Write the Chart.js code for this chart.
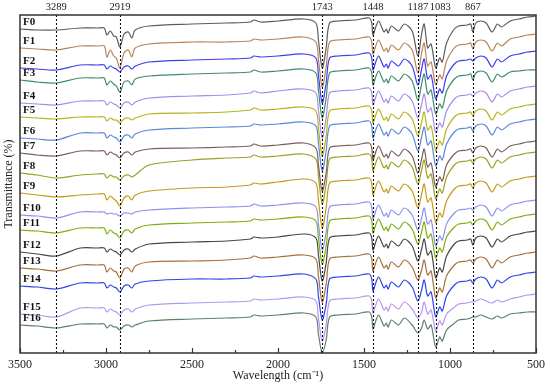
<!DOCTYPE html>
<html>
<head>
<meta charset="utf-8">
<script src="https://cdn.jsdelivr.net/npm/chart.js@4.4.1/dist/chart.umd.min.js"></script>
<style>
html,body{margin:0;padding:0;background:#fff;}
#wrap{width:550px;height:389px;position:relative;}
</style>
</head>
<body>
<div id="wrap"><canvas id="c" width="550" height="389"></canvas></div>
<script>
// Wavenumber grid (cm-1)
const wavenumbers = [3500,3400,3289,3150,3050,3010,2995,2975,2955,2940,2919,2895,2870,2850,2830,2750,2500,2300,2160,2140,2100,2000,1850,1780,1765,1743,1720,1700,1650,1550,1470,1455,1448,1430,1415,1395,1383,1370,1360,1340,1300,1265,1220,1187,1165,1150,1130,1110,1083,1060,1045,1020,980,950,900,880,867,850,820,790,755,725,700,650,600,550,500];

// Marked peaks
const peaks = [3289, 2919, 1743, 1448, 1187, 1083, 867];

const seriesNames = ['F0','F1','F2','F3','F4','F5','F6','F7','F8','F9','F10','F11','F12','F13','F14','F15','F16'];

// Transmittance (arbitrary, stacked) per sample
const F0 = [324,323,323,325,325,325,318,322,317,316,306,319,321,315,323,327,329,330,331,333,331,332,334,330,313,285,305,330,332,333,335,330,318,327,332,325,321,324,320,327,322,329,322,297,319,329,305,309,285,295,291,310,323,327,328,329,321,330,332,330,321,329,326,332,334,336,337];
const F1 = [305,304,303,307,307,307,296,303,297,295,285,300,303,296,305,309,311,311,312,314,313,314,316,311,294,266,286,311,313,314,316,311,299,308,313,306,302,305,301,308,303,310,303,280,300,310,287,291,268,278,274,292,304,308,309,310,304,311,313,311,302,310,307,314,316,318,319];
const F2 = [285,284,283,288,288,288,284,287,285,284,281,286,287,284,287,291,293,294,295,297,296,297,299,295,278,250,270,295,297,298,300,295,283,292,297,290,286,289,285,292,287,294,287,268,284,294,274,278,254,264,260,277,288,292,293,294,292,295,297,295,286,294,291,297,299,301,302];
const F3 = [273,271,270,275,275,275,268,272,269,267,261,271,272,268,274,277,279,280,281,283,281,282,284,280,263,235,255,280,282,283,285,280,268,277,282,275,271,274,270,277,272,279,272,253,269,279,259,263,239,249,245,262,273,277,278,279,273,280,282,280,271,279,276,281,282,283,283];
const F4 = [250,249,248,252,252,252,248,251,249,248,245,250,251,248,251,255,257,258,260,262,260,262,264,260,243,215,235,260,262,263,265,260,248,257,262,255,251,254,250,257,252,259,252,235,249,259,241,245,220,230,226,242,253,257,258,259,257,260,262,260,251,259,256,262,264,266,267];
const F5 = [236,235,234,236,236,236,232,235,233,233,230,234,235,233,235,239,240,241,243,245,243,244,246,242,225,197,217,242,244,245,247,242,230,239,244,237,233,236,232,239,234,241,234,217,231,241,223,227,202,212,208,224,235,239,240,241,237,242,244,242,233,241,238,244,246,248,249];
const F6 = [215,214,213,220,220,220,215,218,216,215,211,217,218,215,219,223,225,226,227,229,228,229,231,227,210,182,202,227,229,230,232,227,215,224,229,222,218,221,217,224,219,226,219,202,216,226,208,212,187,197,193,209,220,224,225,226,222,227,229,227,218,226,223,229,231,233,234];
const F7 = [200,198,197,202,202,202,198,201,199,198,195,200,201,198,201,204,205,206,207,209,207,208,210,205,188,162,180,205,207,208,210,205,193,202,207,200,196,199,195,202,197,204,197,180,194,204,186,190,166,176,172,188,198,202,203,204,200,205,207,205,196,204,201,207,209,211,212];
const F8 = [180,178,175,178,179,179,175,178,176,176,173,177,178,176,178,188,193,195,196,198,196,197,199,194,177,149,169,194,196,197,199,194,182,191,196,189,185,188,184,191,186,193,186,169,183,193,175,179,154,164,160,176,187,191,192,193,190,194,196,194,185,193,190,196,198,200,201];
const F9 = [160,158,156,158,159,159,153,157,154,152,147,155,157,153,158,162,165,166,168,170,169,171,174,170,153,125,145,170,172,173,175,170,158,167,172,165,161,164,160,167,162,169,162,145,159,169,151,155,130,140,136,152,163,167,168,169,165,170,172,170,161,169,166,172,174,176,177];
const F10 = [138,137,135,141,141,141,139,140,139,139,137,140,140,139,141,143,145,146,147,149,147,148,150,146,129,103,121,146,148,149,151,146,134,143,148,141,137,140,136,143,138,145,138,123,135,145,129,133,107,117,113,129,139,143,144,145,143,146,148,146,137,145,142,148,150,152,153];
const F11 = [123,122,120,125,125,125,119,123,120,119,115,122,123,120,124,128,130,131,132,134,133,134,136,132,115,89,107,132,134,135,137,132,120,129,134,127,123,126,122,129,124,131,124,109,121,131,115,119,95,105,101,116,125,129,130,131,128,132,134,132,123,131,128,134,136,138,139];
const F12 = [101,99,97,105,105,105,101,104,102,101,98,103,104,101,104,109,111,112,114,116,115,116,119,115,98,72,90,115,117,118,120,115,103,112,117,110,106,109,105,112,107,114,107,92,104,114,98,102,75,85,81,97,108,112,113,114,108,115,117,115,106,114,111,117,119,121,122];
const F13 = [85,84,82,88,88,88,81,85,82,81,75,84,85,81,87,91,92,93,95,97,95,96,98,94,77,51,69,94,96,97,99,94,82,91,96,89,85,88,84,91,86,93,86,73,83,93,78,82,55,65,61,77,87,91,92,93,90,94,96,94,85,93,90,96,98,100,101];
const F14 = [67,66,64,70,70,70,65,68,66,65,61,67,68,65,69,72,74,74,75,77,76,77,79,74,57,33,49,74,76,77,79,74,62,71,76,69,65,68,64,71,66,73,66,52,63,73,57,61,36,46,42,57,67,71,72,73,70,74,76,74,65,73,70,76,78,80,81];
const F15 = [39,38,36,45,45,45,41,44,42,41,38,43,44,41,44,48,50,51,52,54,53,54,56,52,35,12,28,52,54,55,57,52,40,49,54,47,43,46,42,49,44,51,44,35,41,51,39,43,22,32,28,39,45,49,50,51,51,52,54,52,50,53,51,54,56,58,59];
const F16 = [28,27,25,29,29,29,25,28,26,26,23,27,28,26,28,32,34,35,36,38,37,38,40,36,19,0,13,36,38,39,41,36,24,33,38,31,27,30,26,33,28,35,28,20,25,33,24,28,6,16,12,23,29,33,34,35,36,36,38,36,34,37,35,39,40,41,41];

const seriesData = [F0,F1,F2,F3,F4,F5,F6,F7,F8,F9,F10,F11,F12,F13,F14,F15,F16];
const seriesColors = ['#5c5c5c','#b8845a','#3c3cf0','#3f8c6c','#a98bea','#b5b31c','#5b87d8','#7a5e5a','#9aa024','#c49a1a','#8b93e8','#7fae10','#474747','#a8703c','#2c46e6','#b795f0','#5e7f6e'];

const SERIF = '"Liberation Serif", "Times New Roman", serif';

const decor = {
  id: 'decor',
  afterDatasetsDraw(chart) {
    const {ctx, chartArea: a, scales: {x, y}} = chart;
    ctx.save();
    // dashed peak markers
    ctx.setLineDash([2, 2]);
    ctx.strokeStyle = '#111';
    ctx.lineWidth = 1.1;
    peaks.forEach(p => {
      const px = Math.round(x.getPixelForValue(p)) + 0.5;
      ctx.beginPath(); ctx.moveTo(px, a.top); ctx.lineTo(px, a.bottom); ctx.stroke();
    });
    ctx.setLineDash([]);
    // peak labels (nudged apart when they would touch)
    ctx.fillStyle = '#222';
    ctx.font = '10.5px ' + SERIF;
    ctx.textAlign = 'center';
    ctx.textBaseline = 'middle';
    let prevRight = -Infinity;
    peaks.forEach(p => {
      const t = String(p);
      const w = ctx.measureText(t).width;
      let cx = x.getPixelForValue(p);
      if (cx - w / 2 < prevRight + 1.5) cx = prevRight + 1.5 + w / 2;
      ctx.fillText(t, cx, a.top - 8);
      prevRight = cx + w / 2;
    });
    // frame
    ctx.strokeStyle = '#333';
    ctx.lineWidth = 1.5;
    ctx.strokeRect(a.left, a.top, a.right - a.left, a.bottom - a.top);
    // inward ticks
    ctx.lineWidth = 1.2;
    for (let v = 500; v <= 3500; v += 250) {
      const px = Math.round(x.getPixelForValue(v)) + 0.5;
      const len = (v % 500 === 0) ? 5 : 3;
      ctx.beginPath(); ctx.moveTo(px, a.bottom); ctx.lineTo(px, a.bottom - len); ctx.stroke();
    }
    // sample labels
    ctx.font = 'bold 11px ' + SERIF;
    ctx.textAlign = 'left';
    ctx.fillStyle = '#111';
    seriesNames.forEach((n, i) => {
      const yy = y.getPixelForValue(seriesData[i][0]) - 7;
      ctx.fillText(n, a.left + 3, yy);
    });
    // y title
    ctx.translate(9, (a.top + a.bottom) / 2);
    ctx.rotate(-Math.PI / 2);
    ctx.font = '12px ' + SERIF;
    ctx.textAlign = 'center';
    ctx.fillStyle = '#222';
    ctx.fillText('Transmittance (%)', 0, 0);
    ctx.restore();
  }
};

const datasets = seriesData.map((arr, i) => ({
  label: seriesNames[i],
  data: arr.map((v, j) => ({x: wavenumbers[j], y: v})),
  borderColor: seriesColors[i],
  borderWidth: 1.2,
  pointRadius: 0,
  tension: 0.3,
  fill: false
}));

new Chart(document.getElementById('c'), {
  type: 'line',
  data: {datasets},
  options: {
    responsive: false,
    animation: false,
    clip: false,
    layout: {padding: {left: 20, right: 3, top: 15, bottom: 0}},
    plugins: {legend: {display: false}, tooltip: {enabled: false}},
    scales: {
      x: {
        type: 'linear', reverse: true, min: 500, max: 3500,
        afterFit: s => { s.height = 36; },
        ticks: {stepSize: 500, maxRotation: 0, autoSkip: false, padding: 5, color: '#222', font: {family: SERIF, size: 12}, callback: v => String(v)},
        grid: {display: false, drawTicks: false, tickLength: 0},
        border: {display: false},
        title: {display: true, text: 'Wavelength (cm⁻¹)', color: '#222', font: {family: SERIF, size: 12}, padding: {top: 0, bottom: 6}}
      },
      y: {display: false, min: 0, max: 338}
    }
  },
  plugins: [decor]
});
</script>
</body>
</html>
